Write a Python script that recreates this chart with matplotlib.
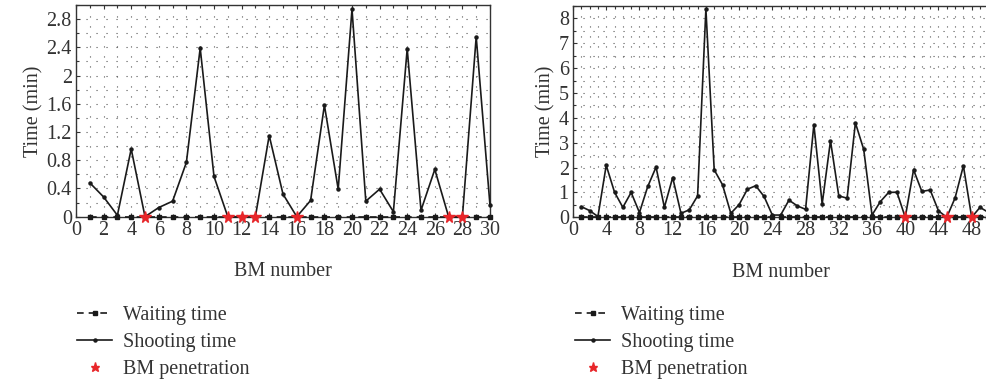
import matplotlib
matplotlib.use("Agg")
import matplotlib.pyplot as plt
import numpy as np
from matplotlib.ticker import MultipleLocator

plt.rcParams['font.family'] = ['Liberation Serif', 'DejaVu Serif']
plt.rcParams['font.size'] = 14.5
TXT = '#333333'
plt.rcParams['text.color'] = TXT
plt.rcParams['axes.labelcolor'] = TXT
plt.rcParams['xtick.color'] = TXT
plt.rcParams['ytick.color'] = TXT

# ---- data: left panel (30 BMs) ----
bm_left = list(range(1, 31))
shoot_left = [0.48, 0.28, 0.02, 0.96, 0.0, 0.13, 0.22, 0.77, 2.39, 0.57,
              0.0, 0.0, 0.0, 1.15, 0.32, 0.0, 0.23, 1.58, 0.39, 2.94,
              0.22, 0.39, 0.07, 2.38, 0.09, 0.67, 0.0, 0.0, 2.55, 0.16]
wait_left = [0.0] * 30
pen_left = [5, 11, 12, 13, 16, 27, 28]

# ---- data: right panel (50 BMs) ----
bm_right = list(range(1, 51))
shoot_right = [0.43, 0.27, 0.03, 2.09, 1.01, 0.40, 1.00, 0.19, 1.24, 2.02,
               0.40, 1.60, 0.16, 0.30, 0.86, 8.38, 1.91, 1.31, 0.16, 0.51,
               1.13, 1.27, 0.84, 0.09, 0.09, 0.69, 0.46, 0.32, 3.73, 0.54,
               3.08, 0.86, 0.77, 3.80, 2.73, 0.09, 0.63, 1.00, 1.01, 0.0,
               1.91, 1.04, 1.10, 0.26, 0.0, 0.78, 2.07, 0.0, 0.40, 0.20]
wait_right = [0.0] * 50
pen_right = [40, 45, 48]

legend_labels = ["Waiting time", "Shooting time", "BM penetration"]

fig = plt.figure(figsize=(9.87, 3.83), dpi=100)

LINE = '#1a1a1a'


def draw(ax, bms, shoot, wait, pen, xlim, ylim, xmaj, xmin, ymaj, ymin, legend_x):
    ax.set_xlim(*xlim)
    ax.set_ylim(*ylim)
    ax.xaxis.set_major_locator(MultipleLocator(xmaj))
    ax.xaxis.set_minor_locator(MultipleLocator(xmin))
    ax.yaxis.set_major_locator(MultipleLocator(ymaj))
    ax.yaxis.set_minor_locator(MultipleLocator(ymin))
    ax.grid(True, which='both', linestyle=(0, (1, 8)), color='#555555', linewidth=0.8)
    ax.set_axisbelow(True)
    ax.tick_params(which='both', direction='in', top=True, right=False, length=3,
                   width=0.8, pad=3)
    ax.tick_params(which='minor', length=2)
    for s in ax.spines.values():
        s.set_color('#333333')
        s.set_linewidth(1.0)
    lw, = ax.plot(bms, wait, linestyle=(0, (4, 3)), color=LINE, marker='s',
                  markersize=2.2, linewidth=1.2, clip_on=False, zorder=3)
    ls, = ax.plot(bms, shoot, linestyle='-', color=LINE, marker='o',
                  markersize=2.2, linewidth=1.2, clip_on=False, zorder=4)
    pvals = [0.0 for _ in pen]
    st, = ax.plot(pen, pvals, linestyle='none', marker='*', color='#e8262a',
                  markersize=8.5, clip_on=False, zorder=5)
    ax.set_xlabel("BM number", labelpad=16)
    ax.set_ylabel("Time (min)", labelpad=2)
    leg = fig.legend([lw, ls, st], legend_labels, loc='upper left',
                     bbox_to_anchor=(legend_x, 0.202), frameon=False,
                     handlelength=1.75, handletextpad=0.55, labelspacing=0.4,
                     borderaxespad=0, borderpad=0, numpoints=1)
    leg.legend_handles[2].set_markersize(6.5)


axL = fig.add_axes([76 / 987, 1 - 216.7 / 383, 414 / 987, 211.7 / 383])
draw(axL, bm_left, shoot_left, wait_left, pen_left, (0, 30), (0, 3.0),
     2, 1, 0.4, 0.2, 77 / 987)
axL.set_yticks([0, 0.4, 0.8, 1.2, 1.6, 2.0, 2.4, 2.8])
axL.set_yticklabels(["0", "0.4", "0.8", "1.2", "1.6", "2", "2.4", "2.8"])

axR = fig.add_axes([573 / 987, 1 - 217.3 / 383, 415.3 / 987, 211.3 / 383])
draw(axR, bm_right, shoot_right, wait_right, pen_right, (0, 50), (0, 8.5),
     4, 2, 1, 0.5, 575 / 987)
axR.xaxis.set_minor_locator(MultipleLocator(1))
axR.yaxis.set_minor_locator(MultipleLocator(0.5))

fig.savefig("out.png", dpi=100)
